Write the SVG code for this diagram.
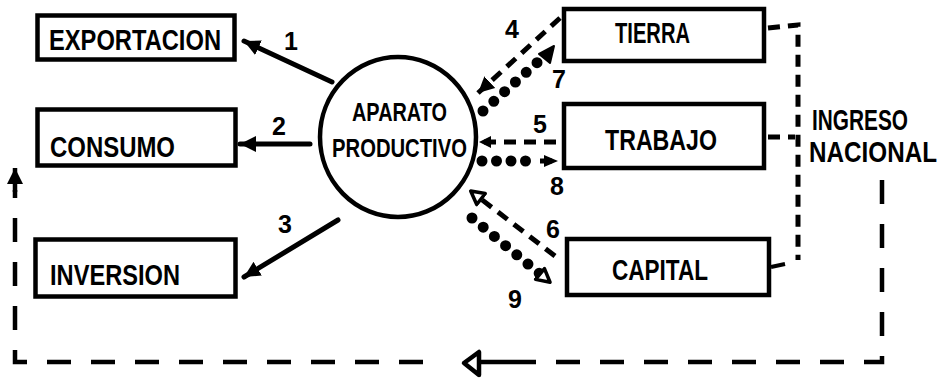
<svg xmlns="http://www.w3.org/2000/svg" width="948" height="380" viewBox="0 0 948 380">
<style>
.box{fill:#fff;stroke:#000;stroke-width:4.5}
.t{font-family:"Liberation Sans",Arial,sans-serif;font-size:29px;font-weight:bold;fill:#000}
.ti{font-family:"Liberation Sans",Arial,sans-serif;font-size:25px;font-weight:bold;fill:#000}
.n{font-family:"Liberation Sans",Arial,sans-serif;font-size:25px;font-weight:bold;fill:#000}
.solid{fill:none;stroke:#000;stroke-width:5;stroke-linecap:round}
.dash{fill:none;stroke:#000;stroke-width:5;stroke-dasharray:12 8}
.dot{fill:none;stroke:#000;stroke-width:11;stroke-linecap:round;stroke-dasharray:0 14.5}
.ring{fill:none;stroke:#000;stroke-width:4.5;stroke-dasharray:24 20}
</style>
<defs>
<marker id="af" markerUnits="userSpaceOnUse" markerWidth="18" markerHeight="18" refX="16" refY="9" orient="auto">
<path d="M0,1 L16,9 L0,17 Z" fill="#000"/>
</marker>
<marker id="afs" markerUnits="userSpaceOnUse" markerWidth="14" markerHeight="14" refX="12" refY="7" orient="auto">
<path d="M0,1 L12,7 L0,13 Z" fill="#000"/>
</marker>
<marker id="ao" markerUnits="userSpaceOnUse" markerWidth="20" markerHeight="20" refX="2" refY="10" orient="auto">
<path d="M2,3 L15,10 L2,17 Z" fill="#fff" stroke="#000" stroke-width="3.5" stroke-linejoin="round"/>
</marker>
</defs>

<g id="exportacion"><rect class="box" x="37.5" y="15.5" width="197" height="44"/><text class="t" x="49" y="50" textLength="172" lengthAdjust="spacingAndGlyphs">EXPORTACION</text></g>
<g id="consumo"><rect class="box" x="37.5" y="109.5" width="198" height="56"/><text class="t" x="50" y="157" textLength="125" lengthAdjust="spacingAndGlyphs">CONSUMO</text></g>
<g id="inversion"><rect class="box" x="35.5" y="239.5" width="200" height="57"/><text class="t" x="50" y="285" textLength="130" lengthAdjust="spacingAndGlyphs">INVERSION</text></g>
<g id="aparato"><ellipse cx="398" cy="137" rx="78" ry="80" fill="#fff" stroke="#000" stroke-width="4.5"/><text class="n" x="352" y="121" textLength="95" lengthAdjust="spacingAndGlyphs">APARATO</text><text class="n" x="332" y="157" textLength="135" lengthAdjust="spacingAndGlyphs">PRODUCTIVO</text></g>
<g id="tierra"><rect class="box" x="564" y="9" width="200" height="52"/><text class="t" x="615" y="43" textLength="75" lengthAdjust="spacingAndGlyphs">TIERRA</text></g>
<g id="trabajo"><rect class="box" x="564" y="104" width="200" height="64"/><text class="t" x="605" y="150" textLength="112" lengthAdjust="spacingAndGlyphs">TRABAJO</text></g>
<g id="capital"><rect class="box" x="567" y="239" width="202" height="56"/><text class="t" x="612" y="280" textLength="96" lengthAdjust="spacingAndGlyphs">CAPITAL</text></g>
<g id="ingreso">
<text class="ti" transform="translate(812,130) scale(1,1.2)" textLength="96" lengthAdjust="spacingAndGlyphs">INGRESO</text>
<text class="ti" transform="translate(809,162) scale(1,1.2)" textLength="128" lengthAdjust="spacingAndGlyphs">NACIONAL</text>
</g>

<g id="connectors">
<line class="solid" x1="332" y1="82" x2="244" y2="41" marker-end="url(#af)"/>
<line class="solid" x1="310" y1="144" x2="240" y2="144" marker-end="url(#af)"/>
<line class="solid" x1="338" y1="220" x2="244" y2="277" marker-end="url(#af)"/>
<line class="dash" x1="560" y1="18" x2="478" y2="93" marker-end="url(#af)"/>
<line class="dot" x1="483" y1="111" x2="540" y2="60"/>
<path d="M554,46 L550,63 L539,54 Z" fill="#000" stroke="#000" stroke-width="2" stroke-linejoin="round"/>
<line class="dash" x1="556" y1="142" x2="479" y2="142" marker-end="url(#afs)"/>
<line class="dot" x1="482" y1="161" x2="540" y2="161"/>
<path d="M540,161 L552,161" stroke="#000" stroke-width="5"/>
<path d="M544,155 L558,161 L544,167 Z" fill="#000"/>
<line class="dash" x1="555" y1="256" x2="481" y2="199" marker-end="url(#ao)"/>
<line class="dot" x1="472" y1="218" x2="540" y2="274" marker-end="url(#ao)"/>
<path class="dash" d="M768,28 L798,25 L798,260"/>
<line class="dash" x1="768" y1="137" x2="795" y2="137"/>
<path d="M771,267 L785,264" fill="none" stroke="#000" stroke-width="4"/>
<path class="ring" d="M882,180 L882,362 L518,362"/>
<line x1="518" y1="362" x2="480" y2="362" stroke="#000" stroke-width="4.5"/>
<path d="M464,363 L479,352 L479,375 Z" fill="#fff" stroke="#000" stroke-width="4.5" stroke-linejoin="round"/>
<path class="ring" d="M423,362 L15,362 L15,190"/>
<line x1="15" y1="192" x2="15" y2="168" stroke="#000" stroke-width="4.5" marker-end="url(#af)"/>
</g>

<g id="labels">
<text class="n" x="284" y="50">1</text>
<text class="n" x="272" y="135">2</text>
<text class="n" x="278" y="233">3</text>
<text class="n" x="505" y="38">4</text>
<text class="n" x="533" y="133">5</text>
<text class="n" x="546" y="238">6</text>
<text class="n" x="552" y="88">7</text>
<text class="n" x="550" y="195">8</text>
<text class="n" x="508" y="308">9</text>
</g>
</svg>
